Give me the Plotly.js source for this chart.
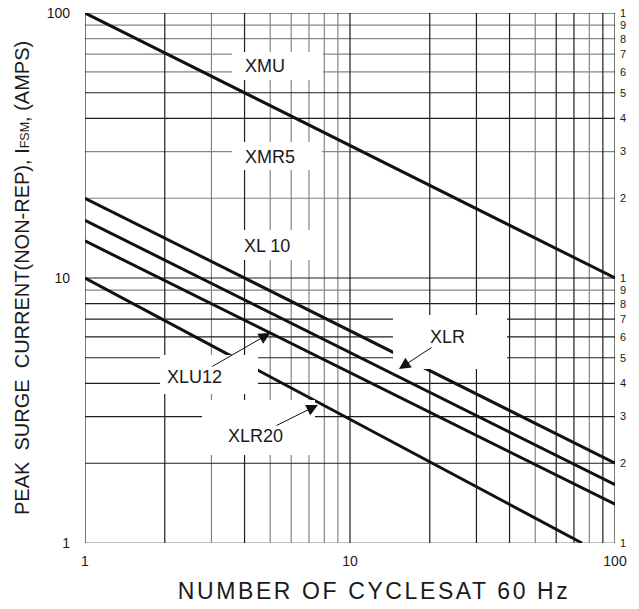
<!DOCTYPE html>
<html><head><meta charset="utf-8">
<script src="https://cdn.plot.ly/plotly-3.0.1.min.js"></script>
<style>
html,body{margin:0;padding:0;background:#fff}
#chart{width:639px;height:609px}
.annotation[data-index="12"] text{letter-spacing:2.6px}
</style>
</head><body><div id="chart"></div>
<script>
// ---- data ----
const cycles = [1, 100];
const xmuCurrent = [100, 10];
const xl10Current = [20, 2];
const xlrCurrent = [16.5, 1.66];
const xlu12Current = [13.8, 1.4];
const xlr20Cycles = [1, 75];
const xlr20Current = [10, 1];

const xTickVals = [1, 10, 100];
const xTickText = ['1', '10', '100'];
const yTickVals = [1, 10, 100];
const yTickText = ['1', '10', '100'];
const rightTickVals = [1,2,3,4,5,6,7,8,9,10,20,30,40,50,60,70,80,90,100];
const rightTickText = ['1','2','3','4','5','6','7','8','9','1','2','3','4','5','6','7','8','9','1'];

const xGridDark = [1, 2, 4, 10, 20, 30, 40, 60, 70, 90, 100];
const xGridLight = [3, 5, 6, 7, 8, 9, 50, 80];
const yGridDark = [2, 3, 4, 5, 6, 7, 8, 10, 40, 50, 100];
const yGridLight = [1, 9, 20, 30, 60, 70, 80, 90];

const labelNames = ['XMU', 'XMR5', 'XL 10', 'XLR', 'XLU12', 'XLR20'];
const arrowTipCycles = [null, null, null, 15.3, 5.0, 7.57];
const arrowTipCurrent = [null, null, null, 4.54, 6.2, 3.32];

// ---- layout geometry ----
const W = 639, H = 609, ML = 85, MR = 24, MT = 13, MB = 66;
const PW = W - ML - MR, PH = H - MT - MB;
const pxX = px => (px - ML) / PW;
const pxY = py => (H - MB - py) / PH;
const dataPxX = v => ML + Math.log10(v) / 2 * PW;
const dataPxY = v => H - MB - Math.log10(v) / 2 * PH;

// label box extents [x0,y0,x1,y1] and text centers (pixels)
const labelBoxes = [[232,52,323,80],[232,142,322,170],[232,230,322,260],[393,315,507,369],[160,355,258,394],[202,400,315,455]];
const labelCenters = [[265,66],[269.5,157],[267,246],[447.5,337],[194,377],[255.5,436]];

const lineStyle = {color: '#111', width: 3};
const traces = [
  {x: cycles, y: xmuCurrent, name: 'XMU'},
  {x: cycles, y: xl10Current, name: 'XL 10'},
  {x: cycles, y: xlrCurrent, name: 'XLR'},
  {x: cycles, y: xlu12Current, name: 'XLU12'},
  {x: xlr20Cycles, y: xlr20Current, name: 'XLR20'}
].map(t => Object.assign(t, {mode: 'lines', line: lineStyle, hoverinfo: 'skip', showlegend: false, cliponaxis: true}));
traces.push({x: cycles, y: xmuCurrent, yaxis: 'y2', mode: 'lines', opacity: 0, hoverinfo: 'skip', showlegend: false});

const shapes = [];
const vLine = (v, c, w) => shapes.push({type: 'line', layer: 'below', xref: 'x', yref: 'paper', x0: v, x1: v, y0: 0, y1: 1, line: {color: c, width: w}});
const hLine = (v, c, w) => shapes.push({type: 'line', layer: 'below', xref: 'paper', yref: 'y', x0: 0, x1: 1, y0: v, y1: v, line: {color: c, width: w}});
xGridLight.forEach(v => vLine(v, '#858585', 1.2));
yGridLight.forEach(v => hLine(v, '#858585', 1.2));
xGridDark.forEach(v => vLine(v, '#1e1e1e', 1.2));
yGridDark.forEach(v => hLine(v, '#1e1e1e', 1.2));

const font = 'Liberation Sans, Arial, sans-serif';
const annotations = [];
labelBoxes.forEach(b => annotations.push({
  xref: 'paper', yref: 'paper', x: pxX((b[0] + b[2]) / 2), y: pxY((b[1] + b[3]) / 2),
  xanchor: 'center', yanchor: 'middle', text: ' ', showarrow: false,
  width: b[2] - b[0], height: b[3] - b[1], bgcolor: '#ffffff', borderwidth: 0, borderpad: 0
}));
labelNames.forEach((name, i) => {
  const c = labelCenters[i];
  const base = {text: name, font: {family: font, size: 18, color: '#1a1a1a'}, xref: 'paper', yref: 'paper'};
  if (arrowTipCycles[i] === null) {
    annotations.push(Object.assign(base, {x: pxX(c[0]), y: pxY(c[1]), showarrow: false, xanchor: 'center', yanchor: 'middle'}));
  } else {
    const tx = dataPxX(arrowTipCycles[i]), ty = dataPxY(arrowTipCurrent[i]);
    annotations.push(Object.assign(base, {x: pxX(tx), y: pxY(ty), ax: c[0] - tx, ay: c[1] - ty,
      showarrow: true, arrowhead: 2, arrowsize: 2.3, arrowwidth: 1, arrowcolor: '#111', borderpad: 0}));
  }
});
annotations.push({xref: 'paper', yref: 'paper', x: pxX(374), y: pxY(591), xanchor: 'center', yanchor: 'middle',
  text: 'NUMBER OF CYCLESAT 60 Hz', showarrow: false, font: {family: font, size: 23, color: '#1a1a1a'}});
annotations.push({xref: 'paper', yref: 'paper', x: pxX(22), y: pxY(278), xanchor: 'center', yanchor: 'middle', textangle: -90,
  text: 'PEAK  SURGE  CURRENT(NON-REP), I<span style="font-size:12.5px">FSM</span>, (AMPS)', showarrow: false,
  font: {family: font, size: 20, color: '#1a1a1a'}});

const layout = {
  width: W, height: H,
  margin: {l: ML, r: MR, t: MT, b: MB, pad: 0},
  paper_bgcolor: '#fff', plot_bgcolor: '#fff',
  showlegend: false,
  xaxis: {type: 'log', range: [0, 2], tickvals: xTickVals, ticktext: xTickText, showgrid: false, zeroline: false,
    showline: false, ticks: '', ticklabelstandoff: 8, tickfont: {family: font, size: 14, color: '#1a1a1a'}, fixedrange: true},
  yaxis: {type: 'log', range: [0, 2], tickvals: yTickVals, ticktext: yTickText, showgrid: false, zeroline: false,
    showline: false, ticks: '', ticklabelstandoff: 14, tickfont: {family: font, size: 14, color: '#1a1a1a'}, fixedrange: true},
  yaxis2: {type: 'log', range: [0, 2], overlaying: 'y', side: 'right', anchor: 'x', tickvals: rightTickVals, ticktext: rightTickText,
    showgrid: false, zeroline: false, showline: false, ticks: '', ticklabelstandoff: 4,
    tickfont: {family: font, size: 11, color: '#1a1a1a'}, fixedrange: true},
  shapes: shapes,
  annotations: annotations
};
Plotly.newPlot('chart', traces, layout, {displayModeBar: false, staticPlot: true});
</script>
</body></html>
